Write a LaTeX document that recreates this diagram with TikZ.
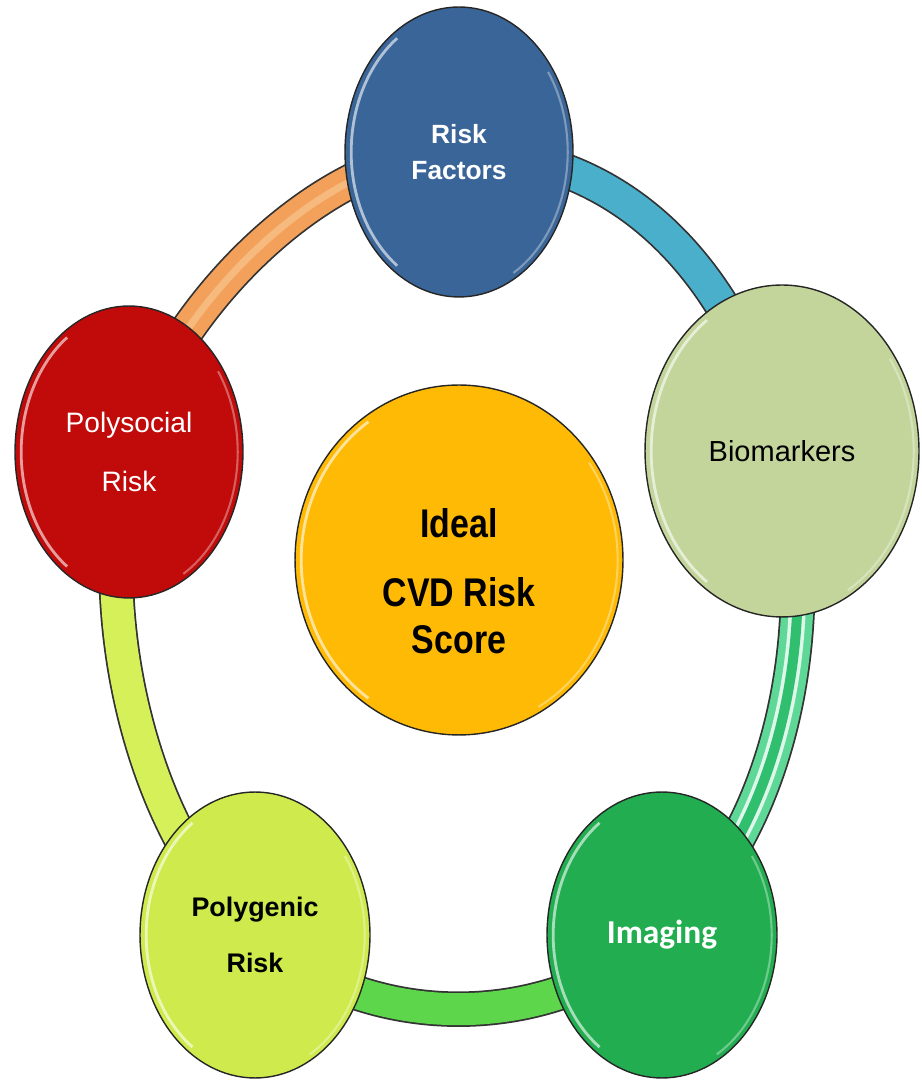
\documentclass[tikz,border=0pt]{standalone}
\usepackage{fontspec}
\setmainfont{Liberation Sans}
\newfontfamily\imgfont{Carlito}
\usepackage{graphicx}
\usepackage{tikz}
\usetikzlibrary{shapes.geometric,backgrounds,calc}
\usepackage{xcolor}
\definecolor{rfblue}{HTML}{3A6598}
\definecolor{biogreen}{HTML}{C3D59B}
\definecolor{psred}{HTML}{C10A0A}
\definecolor{ctrgold}{HTML}{FFBA05}
\definecolor{pglime}{HTML}{CFEA4C}
\definecolor{imggreen}{HTML}{22AE50}
\definecolor{bandorange}{HTML}{F3A05A}
\definecolor{bandorangehi}{HTML}{F9C68E}
\definecolor{bandteal}{HTML}{4AAFCB}
\definecolor{bandmint}{HTML}{5DD897}
\definecolor{bandmintdark}{HTML}{2FBF6E}
\definecolor{bandgreen}{HTML}{5ED64C}
\definecolor{bandlime}{HTML}{D6F05A}
\newcommand{\tallbox}[1]{\scalebox{1}[1.18]{#1}}

\begin{document}
\begin{tikzpicture}[x=0.02cm, y=0.02cm,
  rim/.style={path picture={
    \draw[white, opacity=.6, line width=1.6pt]
      let \p1=($(path picture bounding box.north east)-(path picture bounding box.center)$) in
      (path picture bounding box.center) ++(125:{\x1-3.5pt} and {\y1-3.5pt})
      arc[start angle=125, end angle=235, x radius=\x1-3.5pt, y radius=\y1-3.5pt];
    \draw[white, opacity=.35, line width=1.2pt]
      let \p1=($(path picture bounding box.north east)-(path picture bounding box.center)$) in
      (path picture bounding box.center) ++(-60:{\x1-3pt} and {\y1-3pt})
      arc[start angle=-60, end angle=35, x radius=\x1-3pt, y radius=\y1-3pt];
  }},
  ball/.style={
    ellipse,
    draw=black!85, line width=0.8pt,
    inner sep=0pt,
    align=center,
    rim
  },
  band/.style={
    draw=black!80, line width=1pt,
    double distance=0.64cm
  }
]
  \useasboundingbox (0,0) rectangle (921,1081);

  % Outer nodes
  \node[ball, fill=rfblue, minimum width=4.56cm, minimum height=5.8cm,
    text=white, font=\fontsize{15}{20.4}\selectfont\bfseries] (rf) at (459,929) {Risk\\Factors};
  \node[ball, fill=biogreen, minimum width=5.48cm, minimum height=6.64cm,
    text=black, font=\fontsize{16.5}{20}\selectfont] (bio) at (782,630) {Biomarkers};
  \node[ball, fill=imggreen, minimum width=4.6cm, minimum height=5.72cm,
    text=white, font=\fontsize{19}{22}\selectfont\imgfont\bfseries] (img) at (662,146) {Imaging};
  \node[ball, fill=pglime, minimum width=4.6cm, minimum height=5.72cm,
    text=black, font=\fontsize{15.3}{32}\selectfont\bfseries] (pg) at (255,146) {Polygenic\\Risk};
  \node[ball, fill=psred, minimum width=4.56cm, minimum height=5.84cm,
    text=white, font=\fontsize{16}{34}\selectfont] (ps) at (129,629) {Polysocial\\Risk};

  % Centre node
  \node[ball, fill=ctrgold, minimum width=6.56cm, minimum height=7cm,
    text=black, font=\fontsize{19.3}{22.5}\selectfont\bfseries] (ctr) at (459,521)
    {\raisebox{-21pt}[0pt][0pt]{\tallbox{\begin{tabular}{@{}c@{}}Ideal\\[11pt]CVD Risk\\Score\end{tabular}}}};

  % Ring
  \begin{scope}[on background layer]
    \draw[band, double=bandorange] (ps.center) to[out=76, in=180, looseness=0.8] (rf.center);
    \draw[bandorangehi, line width=4pt, opacity=.7] (ps.center) to[out=76, in=180, looseness=0.8] (rf.center);
    \draw[band, double=bandteal] (rf.center) to[out=0, in=104] (bio.center);
    \draw[band, double=bandmint] (bio.center) to[out=-76, in=41, looseness=0.85] (img.center);
    \draw[draw=white!80!bandmint, line width=2pt, double=bandmintdark, double distance=0.2cm]
      (bio.center) to[out=-76, in=41, looseness=0.85] (img.center);
    \draw[band, double=bandgreen] (img.center) to[out=221, in=-41, looseness=0.95] (pg.center);
    \draw[band, double=bandlime] (pg.center) to[out=139, in=256, looseness=0.8] (ps.center);
  \end{scope}
\end{tikzpicture}
\end{document}
